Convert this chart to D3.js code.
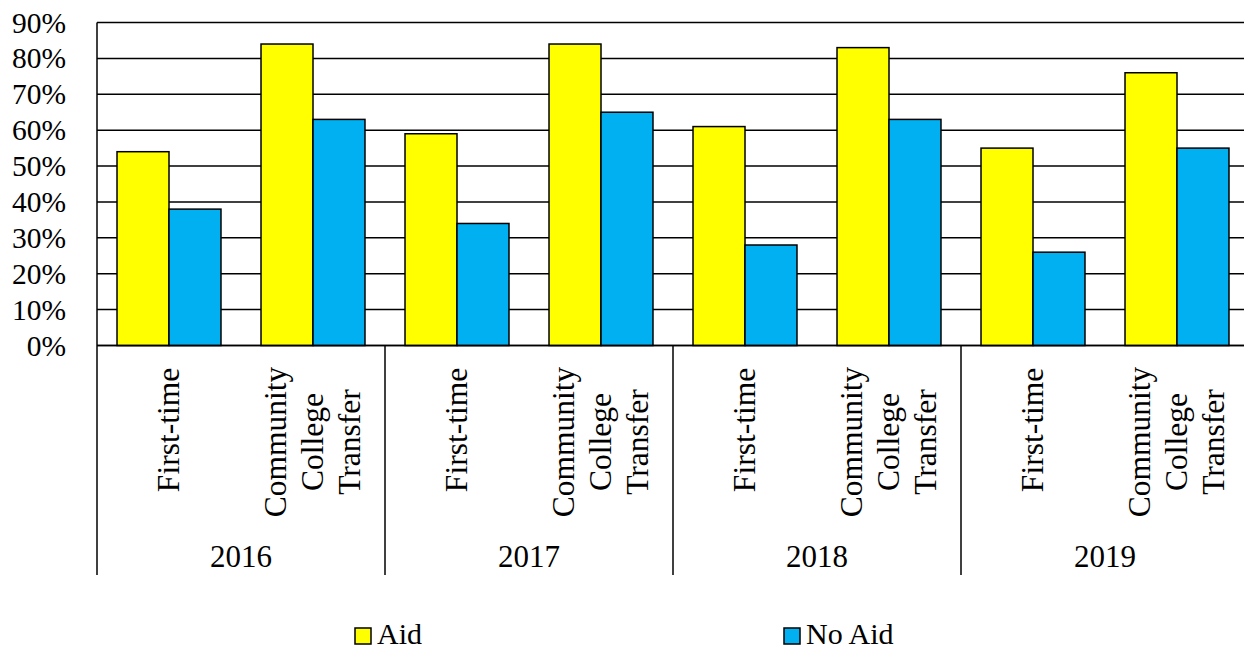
<!DOCTYPE html>
<html>
<head>
<meta charset="utf-8">
<script src="https://cdn.jsdelivr.net/npm/d3@7"></script>
<style>
  html, body { margin: 0; padding: 0; background: #fff; }
  svg { display: block; }
</style>
</head>
<body>
<svg id="chart" width="1244" height="649"></svg>
<script>
// Retention by year, student type and aid status
const years = ["2016", "2017", "2018", "2019"];
const studentTypes = ["First-time", "Community College Transfer"];
const series = ["Aid", "No Aid"];
const aidValues   = [54, 84, 59, 84, 61, 83, 55, 76];   // year-major order
const noAidValues = [38, 63, 34, 65, 28, 63, 26, 55];
const yTicks = [0, 10, 20, 30, 40, 50, 60, 70, 80, 90];
const colors = ["#FFFF00", "#00B0F0"];
const FONT = "'Liberation Serif', serif";

const rows = [];
years.forEach((yr, i) => studentTypes.forEach((t, j) => {
  const k = i * studentTypes.length + j;
  rows.push({ year: yr, type: t, values: [aidValues[k], noAidValues[k]] });
}));

const svg = d3.select("#chart");
const plotLeft = 97, plotTop = 22.5, plotBottom = 345.5, plotRight = plotLeft + 8 * 144;
const axisBottom = 575;

const x0 = d3.scaleBand().domain(years).range([plotLeft, plotRight]).paddingInner(0).paddingOuter(0);
const x1 = d3.scaleBand().domain(studentTypes).range([0, x0.bandwidth()]);
const x2 = d3.scaleBand().domain(series).range([0, x1.bandwidth()]).paddingInner(0).paddingOuter(0.385);
const y = d3.scaleLinear().domain([0, 90]).range([plotBottom, plotTop]);

// Horizontal gridlines
svg.append("g").selectAll("line").data(yTicks).join("line")
  .attr("x1", plotLeft).attr("x2", plotRight)
  .attr("y1", d => y(d)).attr("y2", d => y(d))
  .attr("stroke", "#000").attr("stroke-width", 1.5);

// Y axis labels
svg.append("g").selectAll("text").data(yTicks).join("text")
  .attr("x", 66).attr("y", d => y(d) + 10)
  .attr("text-anchor", "end")
  .style("font-family", FONT)
  .attr("font-size", 29.5).attr("fill", "#000")
  .text(d => d + "%");

// Bars
const groups = svg.append("g").selectAll("g").data(rows).join("g")
  .attr("transform", d => `translate(${x0(d.year) + x1(d.type)},0)`);
groups.selectAll("rect").data(d => d.values.map((v, i) => ({ s: series[i], v, i }))).join("rect")
  .attr("x", d => x2(d.s))
  .attr("width", x2.bandwidth())
  .attr("y", d => y(d.v))
  .attr("height", d => y(0) - y(d.v))
  .attr("fill", d => colors[d.i])
  .attr("stroke", "#000").attr("stroke-width", 1.5);

// Axes lines: left border, baseline, group separators
svg.append("line").attr("x1", plotLeft).attr("x2", plotLeft).attr("y1", plotTop).attr("y2", axisBottom)
  .attr("stroke", "#000").attr("stroke-width", 1.5);
svg.append("line").attr("x1", plotLeft).attr("x2", plotRight).attr("y1", plotBottom).attr("y2", plotBottom)
  .attr("stroke", "#000").attr("stroke-width", 1.5);
svg.append("g").selectAll("line").data(years.slice(1).concat(["end"])).join("line")
  .attr("x1", d => d === "end" ? plotRight : x0(d)).attr("x2", d => d === "end" ? plotRight : x0(d))
  .attr("y1", plotBottom).attr("y2", axisBottom)
  .attr("stroke", "#000").attr("stroke-width", 1.5);

// Category labels (rotated)
const catFont = 31.5;
const lineGap = 37;
rows.forEach(r => {
  const cx = x0(r.year) + x1(r.type) + x1.bandwidth() / 2;
  const lines = r.type === "First-time" ? ["First-time"] : ["Community", "College", "Transfer"];
  const cy = r.type === "First-time" ? 430 : 442;
  const t = svg.append("text")
    .attr("transform", `translate(${cx},${cy}) rotate(-90)`)
    .attr("text-anchor", "middle")
    .style("font-family", FONT)
    .attr("font-size", catFont).attr("fill", "#000");
  lines.forEach((ln, i) => {
    t.append("tspan").attr("x", 0)
      .attr("y", (i - (lines.length - 1) / 2) * lineGap + catFont * 0.33)
      .text(ln);
  });
});

// Year labels
svg.append("g").selectAll("text").data(years).join("text")
  .attr("x", d => x0(d) + x0.bandwidth() / 2).attr("y", 567)
  .attr("text-anchor", "middle")
  .style("font-family", FONT)
  .attr("font-size", 31).attr("fill", "#000")
  .text(d => d);

// Legend
const legendX = [355, 784];
const lg = svg.append("g").selectAll("g").data(series).join("g")
  .attr("transform", (d, i) => `translate(${legendX[i]},628)`);
lg.append("rect").attr("width", 16).attr("height", 16)
  .attr("fill", (d, i) => colors[i]).attr("stroke", "#000").attr("stroke-width", 1.5);
lg.append("text").attr("x", 22).attr("y", 16)
  .style("font-family", FONT)
  .attr("font-size", 30).attr("fill", "#000").text(d => d);
</script>
</body>
</html>
